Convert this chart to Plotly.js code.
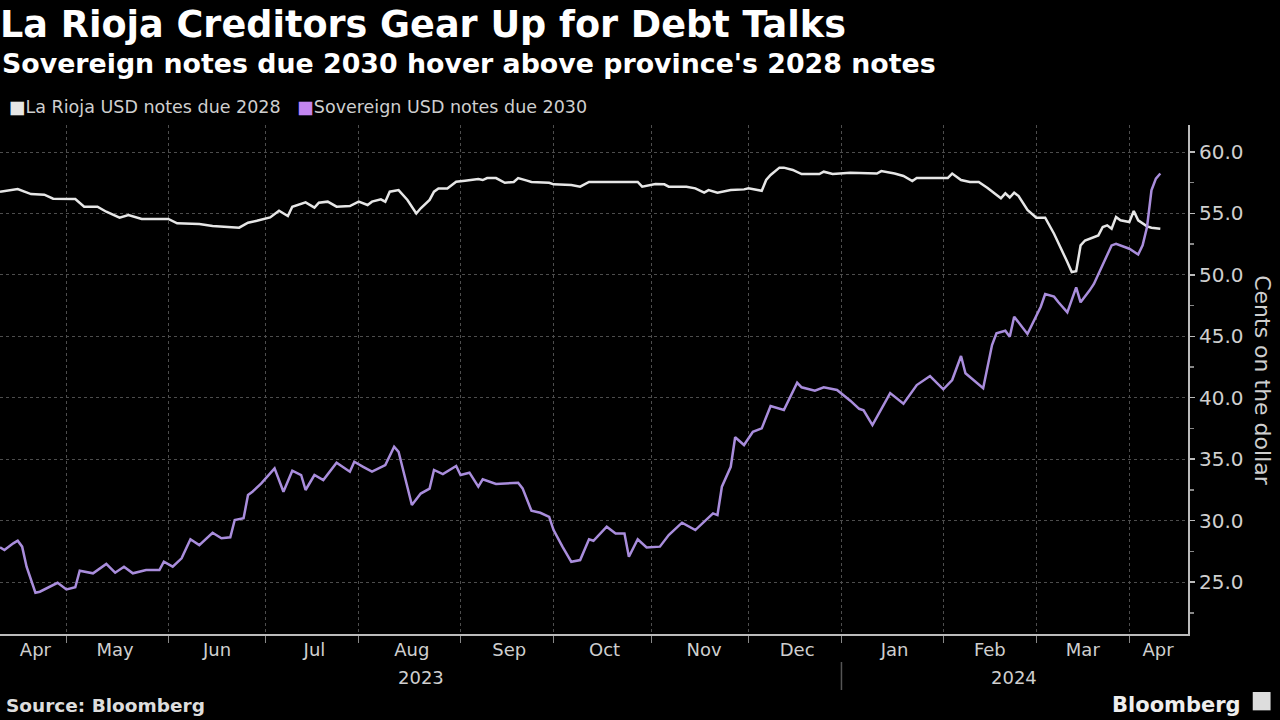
<!DOCTYPE html>
<html>
<head>
<meta charset="utf-8">
<script src="https://cdn.plot.ly/plotly-3.0.1.min.js"></script>
<style>
html,body{margin:0;padding:0;background:#000;}
#chart{width:1280px;height:720px;}
</style>
</head>
<body>
<div id="chart"></div>
<script>
// ---- Data ----
const riojaName = 'La Rioja USD notes due 2028';
const sovName = 'Sovereign USD notes due 2030';

const riojaDates = ['2023-04-10','2023-04-14','2023-04-19','2023-04-24','2023-04-26','2023-05-03','2023-05-05','2023-05-10','2023-05-12','2023-05-17','2023-05-19','2023-05-24','2023-06-01','2023-06-05','2023-06-12','2023-06-15','2023-06-23','2023-06-27','2023-06-29','2023-07-04','2023-07-06','2023-07-10','2023-07-11','2023-07-14','2023-07-18','2023-07-19','2023-07-21','2023-07-25','2023-07-28','2023-08-01','2023-08-03','2023-08-04','2023-08-08','2023-08-09','2023-08-10','2023-08-14','2023-08-16','2023-08-18','2023-08-21','2023-08-23','2023-08-24','2023-08-25','2023-08-29','2023-08-31','2023-09-04','2023-09-07','2023-09-08','2023-09-11','2023-09-13','2023-09-15','2023-09-19','2023-09-20','2023-09-22','2023-09-25','2023-09-29','2023-10-02','2023-10-06','2023-10-10','2023-10-12','2023-10-27','2023-10-30','2023-11-02','2023-11-06','2023-11-07','2023-11-13','2023-11-15','2023-11-17','2023-11-20','2023-11-22','2023-11-27','2023-11-30','2023-12-01','2023-12-06','2023-12-07','2023-12-08','2023-12-12','2023-12-13','2023-12-15','2023-12-19','2023-12-25','2023-12-26','2023-12-28','2024-01-03','2024-01-11','2024-01-12','2024-01-17','2024-01-19','2024-01-23','2024-01-24','2024-02-02','2024-02-05','2024-02-07','2024-02-09','2024-02-13','2024-02-15','2024-02-19','2024-02-20','2024-02-21','2024-02-22','2024-02-23','2024-02-26','2024-02-28','2024-03-01','2024-03-05','2024-03-07','2024-03-12','2024-03-13','2024-03-14','2024-03-15','2024-03-18','2024-03-20','2024-03-21','2024-03-22','2024-03-25','2024-03-26','2024-03-27','2024-03-28','2024-04-01','2024-04-02','2024-04-03','2024-04-05','2024-04-08','2024-04-10'];
const riojaValues = [56.77,56.99,56.58,56.53,56.2,56.17,55.55,55.55,55.14,54.65,54.87,54.55,54.55,54.2,54.14,53.98,53.84,54.25,54.4,54.68,55.22,54.79,55.55,55.9,55.47,55.88,55.96,55.55,55.6,55.96,55.69,55.96,56.15,55.96,56.77,56.9,56.1,55.0,55.42,56.1,56.77,57.04,57.04,57.58,57.67,57.8,57.72,57.88,57.88,57.5,57.56,57.88,57.67,57.56,57.5,57.37,57.31,57.18,57.56,57.56,57.18,57.4,57.37,57.18,57.18,57.04,56.69,56.9,56.69,56.9,56.96,57.04,56.85,57.72,58.13,58.73,58.73,58.54,58.21,58.21,58.4,58.21,58.32,58.25,58.45,58.25,58.05,57.64,57.88,57.88,58.25,57.72,57.56,57.56,57.07,56.5,56.23,56.64,56.3,56.69,56.42,55.28,54.65,54.65,53.35,51.05,50.23,50.3,52.4,52.8,53.08,53.21,53.9,54.03,53.76,54.71,54.44,54.3,55.2,54.44,53.95,53.84,53.76];

const sovDates = ['2023-04-10','2023-04-11','2023-04-13','2023-04-14','2023-04-17','2023-04-18','2023-04-20','2023-04-21','2023-04-27','2023-05-01','2023-05-03','2023-05-04','2023-05-09','2023-05-12','2023-05-16','2023-05-18','2023-05-22','2023-05-25','2023-05-30','2023-05-31','2023-06-02','2023-06-06','2023-06-08','2023-06-12','2023-06-15','2023-06-19','2023-06-21','2023-06-22','2023-06-26','2023-06-27','2023-06-28','2023-06-30','2023-07-05','2023-07-07','2023-07-11','2023-07-13','2023-07-14','2023-07-18','2023-07-20','2023-07-25','2023-07-28','2023-07-31','2023-08-02','2023-08-04','2023-08-09','2023-08-11','2023-08-14','2023-08-16','2023-08-17','2023-08-21','2023-08-23','2023-08-24','2023-08-28','2023-08-31','2023-09-01','2023-09-05','2023-09-07','2023-09-08','2023-09-13','2023-09-20','2023-09-21','2023-09-25','2023-09-27','2023-09-29','2023-10-02','2023-10-04','2023-10-06','2023-10-10','2023-10-12','2023-10-13','2023-10-18','2023-10-20','2023-10-24','2023-10-25','2023-10-27','2023-10-31','2023-11-03','2023-11-07','2023-11-10','2023-11-15','2023-11-21','2023-11-22','2023-11-23','2023-11-27','2023-11-28','2023-11-30','2023-12-04','2023-12-06','2023-12-08','2023-12-13','2023-12-18','2023-12-19','2023-12-22','2023-12-26','2023-12-29','2024-01-03','2024-01-05','2024-01-08','2024-01-10','2024-01-16','2024-01-19','2024-01-24','2024-01-29','2024-02-01','2024-02-05','2024-02-07','2024-02-08','2024-02-14','2024-02-16','2024-02-19','2024-02-21','2024-02-22','2024-02-23','2024-02-28','2024-02-29','2024-03-04','2024-03-05','2024-03-07','2024-03-08','2024-03-12','2024-03-14','2024-03-15','2024-03-19','2024-03-20','2024-03-26','2024-03-27','2024-04-01','2024-04-03','2024-04-04','2024-04-05','2024-04-08','2024-04-09','2024-04-10'];
const sovValues = [27.82,27.6,28.15,28.36,27.88,26.25,24.13,24.21,24.94,24.4,24.57,25.92,25.71,26.47,25.76,26.25,25.71,25.98,25.98,26.65,26.25,26.93,28.48,28.01,29.01,28.56,28.64,30.05,30.19,32.08,32.35,33.03,34.25,32.35,34.06,33.71,32.49,33.71,33.3,34.71,33.98,34.79,34.38,33.98,34.52,36.01,35.6,32.62,31.27,32.2,32.6,34.12,33.79,34.44,33.71,33.9,32.76,33.36,32.98,33.08,32.62,30.8,30.64,30.31,29.23,27.88,26.65,26.79,28.48,28.36,29.5,28.96,28.96,27.06,28.48,27.82,27.88,28.83,29.83,29.23,30.59,30.45,32.76,34.38,36.78,36.15,37.23,37.51,39.32,39.0,41.22,40.85,40.57,40.85,40.63,39.76,39.1,38.98,37.78,40.38,39.51,41.03,41.77,40.69,41.44,43.4,41.99,40.77,44.29,45.24,45.45,44.97,46.6,45.19,45.92,47.41,48.44,48.23,47.77,46.95,48.99,47.77,48.72,49.26,52.4,52.53,52.13,51.66,52.4,53.9,56.89,57.84,58.25];

// y-axis ticks, month labels (placed in the middle of each visible month), year labels
const yTickVals = [25, 30, 35, 40, 45, 50, 55, 60];
const monthLabels = ['Apr','May','Jun','Jul','Aug','Sep','Oct','Nov','Dec','Jan','Feb','Mar','Apr'];
const monthLabelDates = ['2023-04-20','2023-05-16','2023-06-16','2023-07-18','2023-08-17','2023-09-18','2023-10-17 12:00','2023-11-17','2023-12-18','2024-01-17','2024-02-15 12:00','2024-03-15 12:00','2024-04-09 12:00'];
const yearLabels = ['2023', '2024'];
const yearLabelDates = ['2023-08-21', '2024-02-23'];
const yearBoundary = '2024-01-01';
const xRange = ['2023-04-10', '2024-04-18 06:00'];

// ---- Styling ----
const FONT = 'DejaVu Sans, Verdana, sans-serif';
const riojaColor = '#e6e6e6';
const sovColor = '#a98ddc';
const sovLegendColor = '#c385f0';
const textGrey = '#cfcfcf';

const traces = [
  {x: riojaDates, y: riojaValues, name: riojaName, type: 'scatter', mode: 'lines',
   line: {color: riojaColor, width: 2.5, shape: 'linear'}},
  {x: sovDates, y: sovValues, name: sovName, type: 'scatter', mode: 'lines',
   line: {color: sovColor, width: 2.5, shape: 'linear'}}
];

const annotations = [
  {xref: 'paper', yref: 'paper', x: 0.0, y: 1.1218, xanchor: 'left', yanchor: 'middle', showarrow: false,
   text: "<b>Sovereign notes due 2030 hover above province's 2028 notes</b>",
   font: {family: FONT, size: 26.8, color: '#ffffff'}},
  {xref: 'paper', yref: 'paper', x: 0.006, y: 1.035, xanchor: 'left', yanchor: 'middle', showarrow: false,
   text: '<span style="color:' + riojaColor + '">■</span>' + riojaName + '   <span style="color:' + sovLegendColor + '">■</span>' + sovName,
   font: {family: FONT, size: 17.5, color: textGrey}},
  {xref: 'paper', yref: 'paper', x: 1.063, y: 0.497, xanchor: 'center', yanchor: 'middle', showarrow: false,
   textangle: 90, text: 'Cents on the dollar', font: {family: FONT, size: 22, color: textGrey}},
  {xref: 'paper', yref: 'paper', x: 0.003, y: -0.1395, xanchor: 'left', yanchor: 'middle', showarrow: false,
   text: '<b>Source: Bloomberg</b>', font: {family: FONT, size: 18.5, color: '#dddddd'}},
  {xref: 'paper', yref: 'paper', x: 1.046, y: -0.139, xanchor: 'right', yanchor: 'middle', showarrow: false,
   text: '<b>Bloomberg</b>', font: {family: FONT, size: 21, color: '#eeeeee'}}
];
yearLabels.forEach((t, i) => {
  annotations.push({xref: 'x', yref: 'paper', x: yearLabelDates[i], y: -0.085, xanchor: 'center', yanchor: 'middle',
    showarrow: false, text: t, font: {family: FONT, size: 18, color: textGrey}});
});

const layout = {
  width: 1280, height: 720,
  paper_bgcolor: '#000000', plot_bgcolor: '#000000',
  margin: {l: 0, r: 92, t: 125, b: 86, pad: 0},
  showlegend: false,
  title: {text: '<b>La Rioja Creditors Gear Up for Debt Talks</b>', x: 0.0, xanchor: 'left',
          xref: 'container', yref: 'container', y: 0.967, yanchor: 'middle',
          font: {family: FONT, size: 36.6, color: '#ffffff'}},
  xaxis: {
    type: 'date',
    range: xRange,
    rangebreaks: [{bounds: ['sat', 'mon']}],
    dtick: 'M1', tick0: '2023-05-01',
    showticklabels: false,
    ticks: 'outside', ticklen: 7, tickcolor: '#888', tickwidth: 1,
    showline: true, linecolor: '#bbbbbb', linewidth: 2,
    showgrid: true, gridcolor: '#4d4d4d', griddash: 'dot', gridwidth: 1,
    zeroline: false,
    fixedrange: true
  },
  xaxis2: {
    type: 'date',
    overlaying: 'x', anchor: 'y', side: 'bottom',
    range: xRange,
    rangebreaks: [{bounds: ['sat', 'mon']}],
    tickmode: 'array', tickvals: monthLabelDates, ticktext: monthLabels,
    ticks: '', ticklabelstandoff: 3, showline: false, showgrid: false, zeroline: false,
    tickfont: {family: FONT, size: 18, color: textGrey},
    fixedrange: true
  },
  yaxis: {
    side: 'right',
    range: [20.77, 62.2],
    tickvals: yTickVals, tickformat: '.1f',
    ticks: 'outside', ticklen: 5, tickcolor: '#bbbbbb', tickwidth: 1.5,
    minor: {dtick: 2.5, ticks: 'outside', ticklen: 4, tickcolor: '#888', showgrid: false},
    showline: true, linecolor: '#bbbbbb', linewidth: 2,
    showgrid: true, gridcolor: '#4d4d4d', griddash: 'dot', gridwidth: 1,
    zeroline: false,
    tickfont: {family: FONT, size: 20, color: textGrey},
    fixedrange: true
  },
  shapes: [
    {type: 'line', xref: 'x', yref: 'paper', x0: yearBoundary, x1: yearBoundary, y0: -0.055, y1: -0.11,
     line: {color: '#555', width: 1.5}},
    // small Bloomberg logo badge next to the wordmark
    {type: 'rect', xref: 'paper', yref: 'paper', x0: 1.0545, x1: 1.0695, y0: -0.114, y1: -0.150,
     fillcolor: '#dddddd', line: {width: 0}}
  ],
  annotations: annotations
};

// invisible carrier trace so the label axis is drawn
traces.push({x: [xRange[0]], y: [yTickVals[0]], xaxis: 'x2', yaxis: 'y', type: 'scatter', mode: 'markers',
             marker: {opacity: 0}, hoverinfo: 'skip', showlegend: false});

Plotly.newPlot('chart', traces, layout, {staticPlot: true, displayModeBar: false});
</script>
</body>
</html>
